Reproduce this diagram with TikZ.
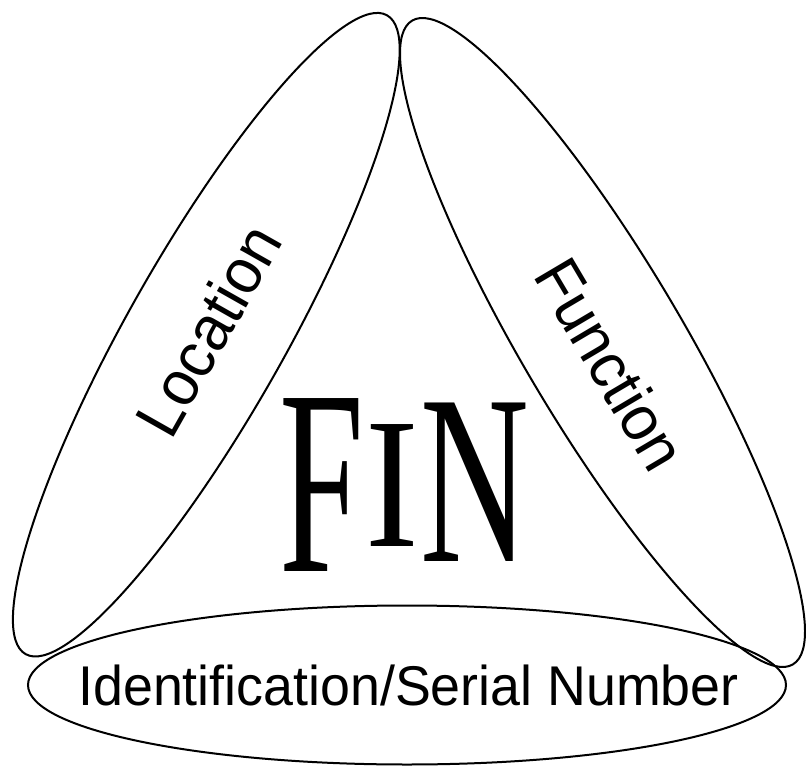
\documentclass[tikz,border=0pt]{standalone}
\usepackage{fontspec}
\setmainfont{Liberation Sans}
\newfontfamily\finfont{Liberation Serif}
\usetikzlibrary{shapes.geometric}
\tikzset{
  ring/.style={ellipse, draw, line width=1.5pt, inner sep=0pt},
  sidelbl/.style={inner sep=0pt, font=\fontsize{47.5pt}{50pt}\selectfont},
  baselbl/.style={inner sep=0pt, font=\fontsize{42pt}{44pt}\selectfont},
  finlbl/.style={inner sep=0pt, font=\finfont\fontsize{127pt}{130pt}\selectfont}
}
\begin{document}
\begin{tikzpicture}[x=0.75pt, y=-0.75pt]
\useasboundingbox (0,0) rectangle (806,766);
% ellipses
\node[ring, minimum width=550.5pt, minimum height=118.5pt, rotate=60.5] (locring) at (206.3,334.7) {};
\node[ring, minimum width=561pt, minimum height=120pt, rotate=-59.4] (funring) at (602.5,342.5) {};
\node[ring, minimum width=568.5pt, minimum height=119.25pt] (idring) at (407,685) {};
% labels
\node[sidelbl, rotate=60.5] (loctext) at (208,330) {\scalebox{0.96}[1]{Location}};
\node[sidelbl, rotate=-59.4] (funtext) at (611,364) {\scalebox{0.96}[1]{Function}};
\node[baselbl] (idtext) at (408.5,685) {\scalebox{0.96}[1]{Identification/Serial Number}};
% FIN
\node[finlbl] (finF) at (322,485) {\scalebox{0.9}[1.56]{F}};
\node[finlbl] (finI) at (392,486) {\scalebox{0.95}[1.1]{I}};
\node[finlbl] (finN) at (475,482) {\scalebox{0.89}[1.43]{N}};
\end{tikzpicture}
\end{document}
